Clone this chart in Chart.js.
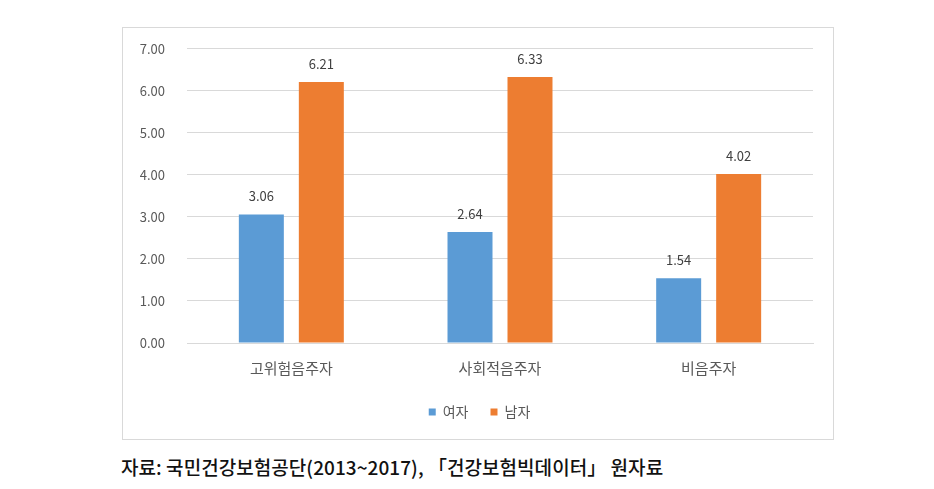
<!DOCTYPE html>
<html>
<head>
<meta charset="utf-8">
<script src="https://cdn.jsdelivr.net/npm/chart.js@4.4.1/dist/chart.umd.min.js"></script>
<style>
  html, body { margin: 0; padding: 0; background: #fff; }
  body { width: 934px; height: 489px; position: relative; overflow: hidden; }
  #box { position: absolute; left: 122px; top: 27px; width: 712px; height: 413px;
         border: 1px solid #d9d9d9; box-sizing: border-box; }
  #wrap { position: absolute; left: 122px; top: 19px; width: 712px; height: 421px; }
  #caption { position: absolute; left: 121px; top: 453px; font-family: "Noto Sans CJK KR", sans-serif;
             font-size: 19px; font-weight: 500; color: #111; white-space: nowrap; letter-spacing: 0.05px; }
</style>
</head>
<body>
<div id="box"></div>
<div id="wrap"><canvas id="chart" width="712" height="421"></canvas></div>
<div id="caption">자료: 국민건강보험공단(2013~2017), 「건강보험빅데이터」 원자료</div>
<script>
const categories = ["고위험음주자", "사회적음주자", "비음주자"];
const seriesNames = ["여자", "남자"];
const femaleValues = [3.06, 2.64, 1.54];
const maleValues = [6.21, 6.33, 4.02];
const yTicks = [0, 1, 2, 3, 4, 5, 6, 7];

const colors = ["#5b9bd5", "#ed7d31"];
const fontFamily = "'Noto Sans CJK KR', 'Noto Sans', sans-serif";

// draws the value above each bar
const valueLabels = {
  id: "valueLabels",
  afterDatasetsDraw(chart) {
    const ctx = chart.ctx;
    ctx.save();
    ctx.font = "13px " + fontFamily;
    ctx.fillStyle = "#404040";
    ctx.textAlign = "center";
    ctx.textBaseline = "middle";
    chart.data.datasets.forEach((ds, i) => {
      chart.getDatasetMeta(i).data.forEach((bar, j) => {
        ctx.fillText(ds.data[j].toFixed(2), bar.x, bar.y - 18);
      });
    });
    ctx.restore();
  }
};

// nudge the legend a little (it centers with the trailing padding included)
const legendNudge = {
  id: "legendNudge",
  afterLayout(chart) {
    const lg = chart.legend;
    lg.left += 12; lg.right += 12;
    lg.top -= 3; lg.bottom -= 3;
  }
};

const ctx = document.getElementById("chart").getContext("2d");
new Chart(ctx, {
  type: "bar",
  data: {
    labels: categories,
    datasets: [
      { label: seriesNames[0], data: femaleValues, backgroundColor: colors[0] },
      { label: seriesNames[1], data: maleValues, backgroundColor: colors[1] }
    ]
  },
  options: {
    responsive: false,
    animation: false,
    events: [],
    layout: { padding: { top: 14, right: 21, bottom: 8, left: 0 } },
    datasets: { bar: { categoryPercentage: 0.575, barPercentage: 0.75 } },
    scales: {
      x: {
        grid: { display: false, drawTicks: false },
        border: { color: "#d9d9d9" },
        ticks: { color: "#595959", font: { size: 15, family: fontFamily }, padding: 16 },
        afterFit(scale) { scale.height = 43; }
      },
      y: {
        min: 0, max: 7,
        afterBuildTicks(scale) { scale.ticks = yTicks.map(v => ({ value: v })); },
        grid: { color: "#d9d9d9", drawTicks: false },
        border: { display: false },
        ticks: { color: "#595959", font: { size: 13, family: fontFamily }, padding: 22,
                 callback: v => v.toFixed(2) },
        afterFit(scale) { scale.width = 65; }
      }
    },
    plugins: {
      legend: {
        position: "bottom",
        labels: { color: "#595959", font: { size: 14, family: fontFamily }, boxWidth: 7, boxHeight: 7, padding: 22 }
      },
      tooltip: { enabled: false }
    }
  },
  plugins: [valueLabels, legendNudge]
});
</script>
</body>
</html>
